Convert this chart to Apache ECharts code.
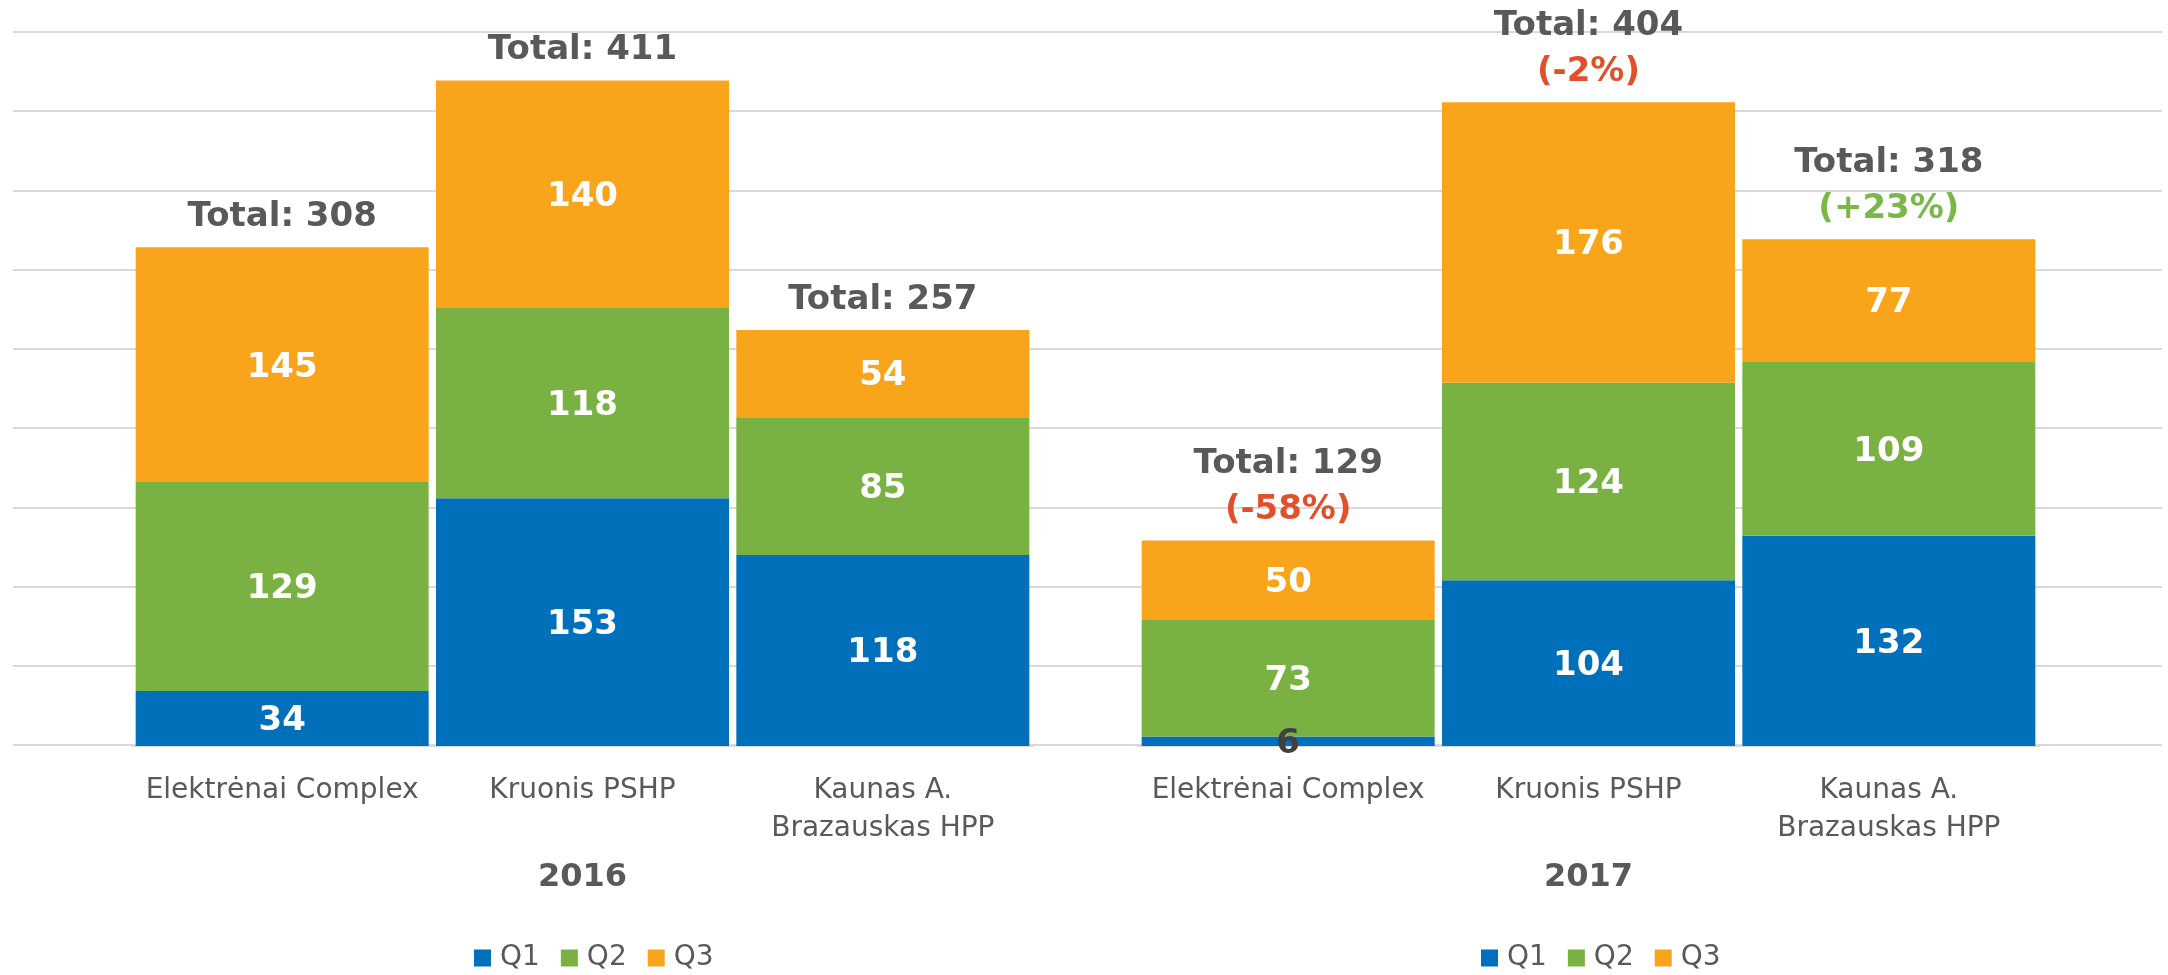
<!DOCTYPE html>
<html>
<head>
<meta charset="utf-8">
<script src="https://cdn.jsdelivr.net/npm/echarts@6/dist/echarts.min.js"></script>
<style>
html,body{margin:0;padding:0;background:#fff;}
#chart{width:2168px;height:975px;}
</style>
</head>
<body>
<div id="chart"></div>
<script>
const years = ['2016', '2017'];
const categories = ['Elektrėnai Complex', 'Kruonis PSHP', 'Kaunas A.\nBrazauskas HPP'];
const seriesNames = ['Q1', 'Q2', 'Q3'];
const q1_2016 = [34, 153, 118];
const q2_2016 = [129, 118, 85];
const q3_2016 = [145, 140, 54];
const q1_2017 = [6, 104, 132];
const q2_2017 = [73, 124, 109];
const q3_2017 = [50, 176, 77];
const change2017 = ['-58%', '-2%', '+23%'];
const axisMax = [441, 448];
const axisInterval = [49, 56];

const COLORS = ['#0070BA', '#79B143', '#F8A51C'];
const FONT = "'DejaVu Sans', Verdana, sans-serif";
const GRAY = '#595959';
const RED = '#E2502B';
const GREEN = '#7AB648';
const BAR_W = 293;

function stackSeries(gi, arrays) {
  return arrays.map((arr, k) => ({
    name: seriesNames[k],
    type: 'bar',
    stack: 'q' + gi,
    xAxisIndex: gi,
    yAxisIndex: gi,
    barWidth: BAR_W,
    barGap: '-100%',
    itemStyle: { color: COLORS[k] },
    label: {
      show: true,
      position: 'inside',
      offset: [0, 3],
      color: '#fff',
      fontFamily: FONT,
      fontWeight: 'bold',
      fontSize: 34
    },
    data: arr.map(v => v < 15 ? { value: v, label: { color: '#404040', offset: [0, 3] } } : v)
  }));
}

function totalSeries(gi, arrays, changes) {
  const totals = arrays[0].map((_, i) => arrays.reduce((s, a) => s + a[i], 0));
  return {
    name: 'Total' + gi,
    type: 'bar',
    xAxisIndex: gi,
    yAxisIndex: gi,
    barWidth: BAR_W,
    barGap: '-100%',
    z: 1,
    itemStyle: { color: 'rgba(0,0,0,0)' },
    silent: true,
    label: {
      show: true,
      position: 'top',
      distance: 7,
      fontFamily: FONT,
      formatter: p => {
        let s = '{t|Total: ' + totals[p.dataIndex] + '}';
        if (changes) {
          const c = changes[p.dataIndex];
          s += '\n{' + (c.charAt(0) === '+' ? 'g' : 'r') + '|(' + c + ')}';
        }
        return s;
      },
      rich: {
        t: { fontFamily: FONT, fontWeight: 'bold', fontSize: 34, color: GRAY, lineHeight: 46 },
        r: { fontFamily: FONT, fontWeight: 'bold', fontSize: 34, color: RED, lineHeight: 46 },
        g: { fontFamily: FONT, fontWeight: 'bold', fontSize: 34, color: GREEN, lineHeight: 46 }
      }
    },
    data: totals
  };
}

const data2016 = [q1_2016, q2_2016, q3_2016];
const data2017 = [q1_2017, q2_2017, q3_2017];

const gridLeft = [132, 1138];
const option = {
  animation: false,
  backgroundColor: '#fff',
  grid: [
    { left: gridLeft[0], width: 901, top: 32, bottom: 229 },
    { left: gridLeft[1], width: 901, top: 32, bottom: 229 },
    { left: 13, right: 6, top: 32, bottom: 230 }
  ],
  xAxis: [0, 1].map(gi => ({
    type: 'category',
    gridIndex: gi,
    data: categories,
    axisTick: { show: false },
    axisLine: { show: true, lineStyle: { color: '#D9D9D9', width: 2 } },
    axisLabel: {
      interval: 0,
      margin: 26,
      color: GRAY,
      fontFamily: FONT,
      fontSize: 28,
      lineHeight: 38
    },
    name: years[gi],
    nameLocation: 'middle',
    nameGap: 132,
    nameTextStyle: {
      color: GRAY,
      fontFamily: FONT,
      fontWeight: 'bold',
      fontSize: 32,
      verticalAlign: 'middle'
    }
  })).concat([{
    type: 'value', gridIndex: 2, min: 0, max: 1, show: false
  }]),
  yAxis: [0, 1].map(gi => ({
    type: 'value',
    gridIndex: gi,
    min: 0,
    max: axisMax[gi],
    interval: axisInterval[gi],
    show: false,
    splitLine: { show: false }
  })).concat([{
    type: 'value',
    gridIndex: 2,
    min: 0,
    max: 9,
    interval: 1,
    axisLabel: { show: false },
    axisLine: { show: false },
    axisTick: { show: false },
    splitLine: { show: true, lineStyle: { color: '#D9D9D9', width: 2 } }
  }]),
  legend: [0, 1].map(gi => ({
    data: seriesNames,
    left: gi === 0 ? 469 : 1476,
    top: 939,
    icon: 'rect',
    itemWidth: 17,
    itemHeight: 17,
    itemGap: 21,
    selectedMode: false,
    textStyle: { color: GRAY, fontFamily: FONT, fontSize: 28, padding: [0, 0, 0, 4] }
  })),
  series: [
    ...stackSeries(0, data2016),
    totalSeries(0, data2016, null),
    ...stackSeries(1, data2017),
    totalSeries(1, data2017, change2017)
  ]
};

const chart = echarts.init(document.getElementById('chart'), null, { renderer: 'canvas' });
chart.setOption(option);
</script>
</body>
</html>
